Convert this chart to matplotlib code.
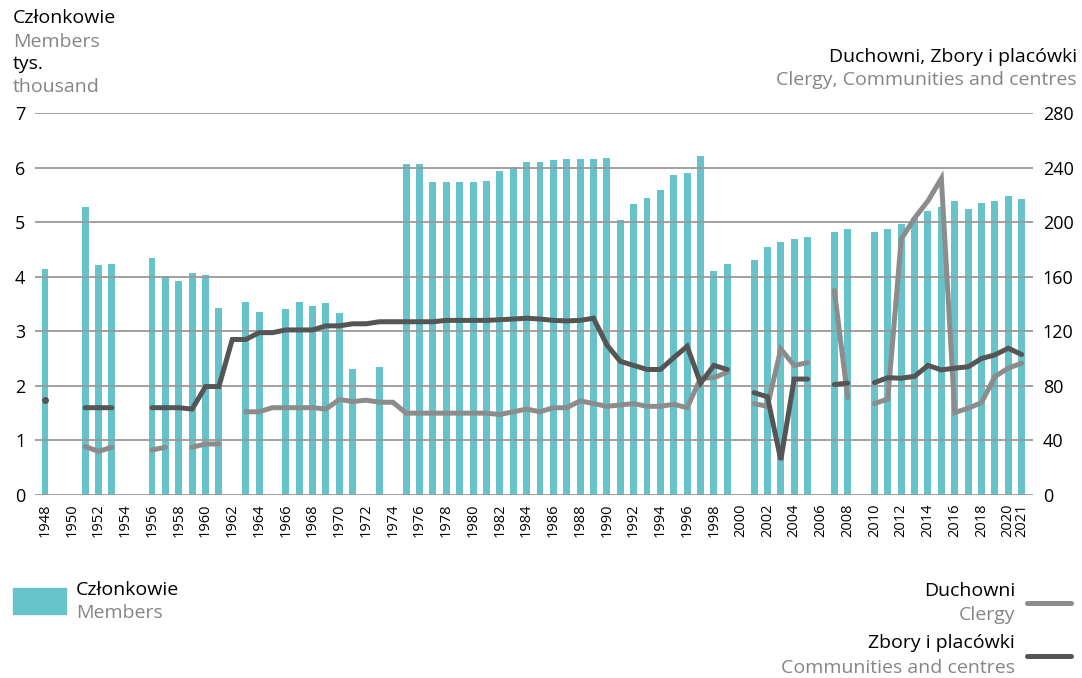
"""Members, clergy and communities 1948-2021: bars on the left axis, two lines on the right."""
import numpy as np
import matplotlib

matplotlib.use("Agg")
import matplotlib.pyplot as plt

plt.rcParams["font.family"] = ["Open Sans", "DejaVu Sans"]

nan = np.nan
years = list(range(1948, 2022))

# members, thousands (nan = no data)
members = [
    4.14, nan, nan, 5.28, 4.22, 4.24, nan, nan, 4.35, 4.02,   # 1948-1957
    3.92, 4.06, 4.04, 3.42, nan, 3.53, 3.36, nan, 3.41, 3.53,  # 1958-1967
    3.47, 3.51, 3.33, 2.30, nan, 2.34, nan, 6.06, 6.06, 5.74,  # 1968-1977
    5.74, 5.74, 5.74, 5.76, 5.93, 6.02, 6.11, 6.11, 6.14, 6.15,  # 1978-1987
    6.15, 6.16, 6.18, 5.04, 5.34, 5.45, 5.59, 5.87, 5.90, 6.22,  # 1988-1997
    4.11, 4.24, nan, 4.30, 4.54, 4.63, 4.69, 4.73, nan, 4.82,  # 1998-2007
    4.88, nan, 4.82, 4.88, 4.97, 5.07, 5.21, 5.28, 5.39, 5.24,  # 2008-2017
    5.35, 5.39, 5.48, 5.43,                                     # 2018-2021
]

# clergy (right axis)
clergy = [
    nan, nan, nan, 35.5, 32, 35, nan, nan, 33, 35,
    nan, 35, 37.4, 37.4, nan, 61, 61, 64, 64, 64,
    64, 63, 70, 68.5, 69.5, 68, 68, 60, 60, 60,
    60, 60, 60, 60, 59, 61, 63, 61, 64, 64,
    69, 67, 65, 66, 67, 65, 65, 66.5, 64, 85.6,
    86, 90, nan, 67, 65, 107, 95, 97, nan, 150,
    71.4, nan, 67, 70.4, 187.5, 203, 215.6, 232, 60.4, 63.6,
    67.7, 86.8, 93, 96.6,
]

# communities and centres (right axis)
communities = [
    70, nan, nan, 64, 64, 64, nan, nan, 64, 64,
    64, 63, 79.5, 79.5, 114, 114, 119, 119, 121, 121,
    121, 124, 124, 125.5, 125.5, 127, 127, 127, 127, 127,
    128, 128, 128, 128, 128.5, 129, 129.6, 129, 128, 127.6,
    128, 129.6, 110, 98, 95, 92, 92, 100.7, 109, 82,
    95, 92, nan, 75, 72, 25.7, 85, 85, nan, 81,
    82, nan, 82.4, 86, 85.6, 87, 95, 91.7, 93, 94,
    100, 102.7, 107.6, 103,
]

tick_years = list(range(1948, 2021, 2)) + [2021]

TEAL = "#66c3c9"
DARK = "#555555"
GREY = "#8c8c8c"
TEXT_GREY = "#858585"

fig = plt.figure(figsize=(10.82, 6.78), dpi=100)
ax = fig.add_axes([0.0323, 0.2699, 0.9224, 0.5634])

ax.bar(years, members, width=0.52, color=TEAL, zorder=1)
for v in range(0, 8):
    ax.axhline(v, color="#9a9a9a", lw=1.3, zorder=2)
ax.set_xlim(1947.25, 2021.85)
ax.set_ylim(0, 7)
ax.set_yticks(range(0, 8))
ax.set_xticks(tick_years)
ax.set_xticklabels([str(y) for y in tick_years], rotation=90, fontsize=10.5)
ax.tick_params(axis="y", length=0, labelsize=13, pad=7)
ax.tick_params(axis="x", length=0, pad=6)
for s in ax.spines.values():
    s.set_visible(False)

ax2 = ax.twinx()
ax2.set_ylim(0, 280)
ax2.set_yticks(range(0, 281, 40))
ax2.tick_params(axis="y", length=0, labelsize=13, pad=7)
for s in ax2.spines.values():
    s.set_visible(False)
ax2.plot(years, clergy, color=GREY, lw=3.6, solid_capstyle="round",
         solid_joinstyle="miter", zorder=3)
ax2.plot(years, communities, color=DARK, lw=3.6, solid_capstyle="round",
         solid_joinstyle="miter", zorder=4)
ax2.plot([years[0]], [communities[0]], "o", color=DARK, ms=4, zorder=4)

# headers
fs = 14
fig.text(13 / 1082, 1 - 18 / 678, "Członkowie", fontsize=fs, va="center")
fig.text(13 / 1082, 1 - 42 / 678, "Members", fontsize=fs, va="center", color=TEXT_GREY)
fig.text(13 / 1082, 1 - 64 / 678, "tys.", fontsize=fs, va="center")
fig.text(13 / 1082, 1 - 87 / 678, "thousand", fontsize=fs, va="center", color=TEXT_GREY)
fig.text(1077 / 1082, 1 - 57 / 678, "Duchowni, Zbory i placówki", fontsize=fs,
         va="center", ha="right")
fig.text(1077 / 1082, 1 - 80 / 678, "Clergy, Communities and centres", fontsize=fs,
         va="center", ha="right", color=TEXT_GREY)

# legend
fig.patches.append(plt.Rectangle((13 / 1082, 1 - 614 / 678), 53 / 1082, 26 / 678,
                                 transform=fig.transFigure, color=TEAL))
fig.text(76 / 1082, 1 - 590 / 678, "Członkowie", fontsize=fs, va="center")
fig.text(76 / 1082, 1 - 613 / 678, "Members", fontsize=fs, va="center", color=TEXT_GREY)

fig.text(1015 / 1082, 1 - 591 / 678, "Duchowni", fontsize=fs, va="center", ha="right")
fig.text(1015 / 1082, 1 - 615 / 678, "Clergy", fontsize=fs, va="center", ha="right",
         color=TEXT_GREY)
fig.text(1015 / 1082, 1 - 643 / 678, "Zbory i placówki", fontsize=fs, va="center",
         ha="right")
fig.text(1015 / 1082, 1 - 668 / 678, "Communities and centres", fontsize=fs,
         va="center", ha="right", color=TEXT_GREY)
for y, c in [(603, GREY), (656, DARK)]:
    fig.add_artist(plt.Line2D([1027 / 1082, 1071 / 1082], [1 - y / 678] * 2,
                              transform=fig.transFigure, color=c, lw=3.6,
                              solid_capstyle="round"))

fig.savefig("out.png", dpi=100)
